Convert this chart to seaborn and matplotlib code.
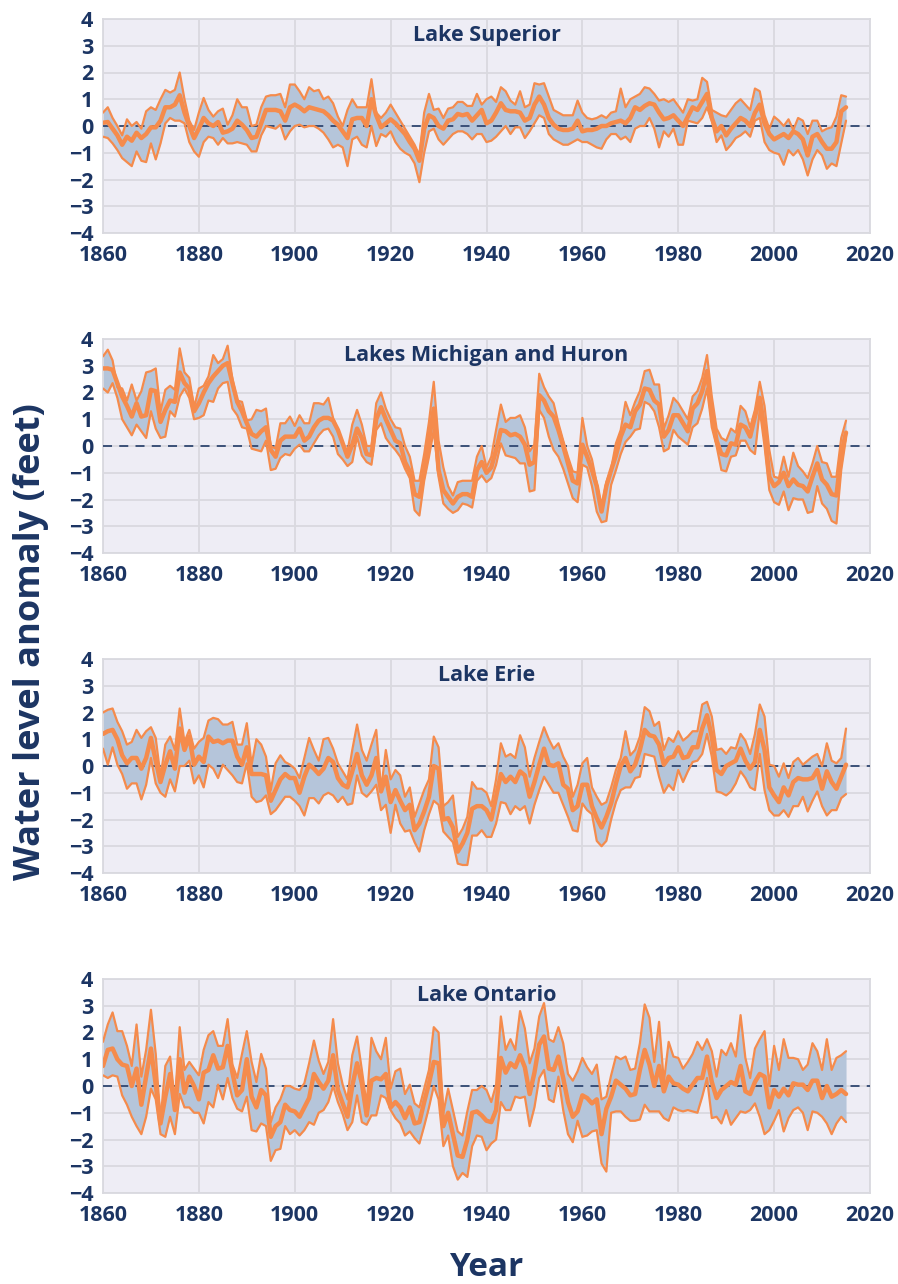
import numpy as np
import pandas as pd
import matplotlib
matplotlib.use("Agg")
import matplotlib.pyplot as plt
import seaborn as sns

years = list(range(1860, 2016))

# Lake Superior (feet, anomaly)
superior_mean = [0.12, 0.15, -0.1, -0.35, -0.7, -0.4, -0.55, -0.25, -0.45, -0.3,
                 -0.05, -0.05, 0.2, 0.7, 0.7, 0.8, 1.15, 0.5, 0.0, -0.45,
                 -0.1, 0.3, 0.1, 0.0, 0.15, -0.25, -0.2, -0.1, 0.2, 0.05,
                 -0.15, -0.45, -0.4, 0.1, 0.6, 0.6, 0.6, 0.55, 0.2, 0.7,
                 0.8, 0.7, 0.55, 0.7, 0.65, 0.6, 0.55, 0.4, 0.2, 0.05,
                 -0.2, -0.45, 0.25, 0.3, 0.3, 0.0, 1.0, 0.4, -0.05, 0.1,
                 0.25, 0.1, -0.1, -0.3, -0.6, -0.85, -1.3, -0.1, 0.4, 0.3,
                 0.0, -0.1, 0.2, 0.25, 0.45, 0.4, 0.45, 0.2, 0.4, 0.6,
                 0.1, 0.2, 0.5, 0.85, 0.6, 0.55, 0.55, 0.5, 0.2, 0.3,
                 0.8, 1.1, 0.8, 0.3, 0.05, -0.1, -0.15, -0.15, -0.1, 0.2,
                 -0.2, -0.15, -0.15, -0.1, 0.0, 0.0, 0.1, 0.15, 0.2, 0.1,
                 0.3, 0.7, 0.6, 0.75, 0.85, 0.8, 0.5, 0.25, 0.3, 0.4,
                 0.2, 0.0, 0.35, 0.7, 0.6, 0.9, 1.2, 0.3, -0.2, 0.0,
                 -0.35, -0.1, 0.1, 0.3, 0.2, 0.0, 0.5, 0.8, 0.1, -0.3,
                 -0.5, -0.4, -0.3, -0.45, -0.2, -0.3, -0.5, -1.1, -0.4, -0.3,
                 -0.6, -0.85, -0.85, -0.6, 0.55, 0.7]
superior_max = [0.5, 0.7, 0.3, 0.0, -0.35, 0.25, 0.0, 0.15, -0.1, 0.55,
                0.7, 0.6, 1.0, 1.35, 1.25, 1.35, 2.0, 1.0, 0.2, -0.15,
                0.5, 1.05, 0.6, 0.35, 0.55, 0.65, 0.05, 0.4, 1.0, 0.7,
                0.7, 0.0, 0.05, 0.7, 1.1, 1.15, 1.15, 1.2, 0.7, 1.55,
                1.55, 1.3, 1.0, 1.45, 1.3, 1.35, 1.0, 1.1, 0.85, 0.35,
                0.0, 0.6, 1.0, 0.7, 0.7, 0.7, 1.75, 0.5, 0.3, 0.5,
                0.8, 0.5, 0.2, -0.1, -0.4, -0.7, -1.1, 0.5, 1.2, 0.6,
                0.65, 0.3, 0.65, 0.7, 0.9, 0.9, 0.75, 0.75, 1.2, 0.8,
                1.0, 1.1, 0.9, 1.45, 1.3, 0.95, 0.8, 1.3, 0.7, 0.8,
                1.6, 1.55, 1.6, 1.1, 0.6, 0.5, 0.4, 0.4, 0.4, 0.95,
                0.5, 0.3, 0.25, 0.3, 0.4, 0.3, 0.5, 0.55, 1.4, 0.7,
                1.0, 1.1, 1.2, 1.45, 1.4, 1.2, 0.95, 1.0, 0.9, 1.0,
                0.75, 0.5, 1.0, 0.95, 1.0, 1.8, 1.65, 0.6, 0.5, 0.4,
                0.35, 0.6, 0.85, 1.0, 0.8, 0.6, 1.4, 1.3, 0.4, -0.1,
                0.35, 0.2, 0.0, 0.25, -0.15, 0.3, 0.2, -0.3, 0.2, 0.2,
                -0.2, -0.1, -0.05, 0.35, 1.15, 1.1]
superior_min = [-0.4, -0.45, -0.65, -0.9, -1.2, -1.35, -1.5, -0.95, -1.3, -1.35,
                -0.65, -1.25, -0.65, 0.1, 0.3, 0.2, 0.2, 0.1, -0.6, -0.95,
                -1.15, -0.6, -0.4, -0.45, -0.7, -0.45, -0.65, -0.65, -0.6, -0.65,
                -0.7, -0.95, -0.95, -0.35, 0.0, -0.05, -0.1, 0.05, -0.5, -0.2,
                0.0, 0.05, -0.05, 0.0, 0.0, -0.1, -0.25, -0.5, -0.8, -0.7,
                -0.8, -1.5, -0.5, -0.4, -0.7, -0.8, 0.0, -0.75, -0.3, -0.4,
                -0.2, -0.6, -0.85, -1.0, -1.1, -1.4, -2.1, -1.0, -0.2, -0.1,
                -0.5, -0.7, -0.5, -0.3, -0.2, -0.2, -0.3, -0.5, -0.3, -0.3,
                -0.6, -0.55, -0.4, -0.2, 0.0, -0.3, -0.05, -0.05, -0.45, -0.2,
                0.1, 0.4, 0.3, -0.3, -0.5, -0.6, -0.7, -0.7, -0.6, -0.5,
                -0.6, -0.6, -0.7, -0.8, -0.85, -0.5, -0.3, -0.3, -0.5, -0.4,
                -0.6, -0.1, 0.0, 0.0, 0.3, -0.1, -0.8, -0.2, -0.4, -0.1,
                -0.7, -0.7, 0.2, 0.15, 0.1, 0.3, 0.7, 0.2, -0.6, -0.35,
                -0.9, -0.7, -0.45, -0.35, -0.2, -0.4, 0.2, 0.3, -0.6, -0.9,
                -1.0, -1.05, -1.45, -0.9, -1.1, -0.9, -1.25, -1.85, -1.25, -0.9,
                -1.1, -1.6, -1.4, -1.5, -0.65, 0.2]

# Lakes Michigan and Huron
michigan_mean = [2.9, 2.9, 2.85, 2.35, 1.85, 1.5, 1.1, 1.6, 1.1, 1.15,
                 2.1, 2.05, 0.9, 1.35, 1.7, 1.65, 2.75, 2.35, 2.15, 1.3,
                 1.6, 2.0, 2.35, 2.6, 2.8, 3.0, 3.1, 2.35, 1.65, 1.3,
                 0.85, 0.45, 0.35, 0.55, 0.7, -0.15, -0.4, 0.2, 0.35, 0.35,
                 0.35, 0.65, 0.2, 0.35, 0.7, 0.95, 1.05, 1.05, 0.95, 0.6,
                 0.1, -0.4, 0.05, 0.65, 0.3, -0.3, -0.35, 1.0, 1.45, 1.0,
                 0.6, 0.2, 0.1, -0.6, -0.95, -1.8, -1.9, -0.9, 0.2, 1.4,
                 -0.9, -1.65, -1.9, -2.15, -1.9, -1.8, -1.8, -1.9, -0.9, -0.6,
                 -1.0, -0.8, -0.15, 0.6, 0.55, 0.4, 0.45, 0.35, 0.05, -0.7,
                 -0.6, 1.9, 1.7, 1.3, 1.1, 0.6, 0.0, -0.65, -1.3, -1.4,
                 0.05, -0.4, -0.9, -1.5, -2.45, -1.5, -0.9, -0.35, 0.35, 0.8,
                 0.7, 1.3, 1.55, 2.15, 2.1, 1.7, 1.55, 0.35, 0.6, 1.15,
                 1.15, 0.85, 0.55, 1.4, 1.6, 2.05, 2.8, 1.2, 0.2, -0.3,
                 -0.35, 0.1, 0.05, 0.8, 0.7, 0.35, 1.1, 1.8, 0.6, -1.15,
                 -1.5, -1.35, -1.0, -1.5, -1.25, -1.45, -1.5, -1.7, -1.15, -0.65,
                 -1.25, -1.45, -1.8, -1.85, -0.3, 0.5]
michigan_max = [3.35, 3.6, 3.2, 2.2, 2.15, 1.7, 2.3, 1.7, 2.05, 2.75,
                2.8, 2.9, 1.3, 2.1, 2.25, 2.1, 3.65, 2.75, 2.55, 1.45,
                2.15, 2.25, 2.6, 3.4, 3.1, 3.25, 3.75, 2.5, 1.7, 1.65,
                0.95, 1.0, 1.35, 1.3, 1.4, 0.0, -0.1, 0.85, 0.85, 1.1,
                0.75, 1.15, 0.85, 0.85, 1.6, 1.6, 1.55, 1.8, 1.05, 0.6,
                0.1, -0.2, 0.8, 1.35, 0.8, 0.0, 0.0, 1.6, 2.0, 1.4,
                1.0, 0.7, 0.65, 0.0, -0.4, -1.3, -1.3, -0.3, 0.9, 2.4,
                0.2, -0.8, -1.5, -1.85, -1.35, -1.3, -1.3, -1.3, -0.4, 0.0,
                -0.8, -0.4, 0.6, 1.55, 0.9, 1.05, 1.05, 1.15, 0.7, -0.2,
                0.05, 2.7, 2.2, 1.85, 1.6, 0.85, 0.2, -0.4, -0.95, -1.0,
                1.05, 0.0, -0.5, -1.4, -2.3, -1.35, -0.85, 0.1, 0.6, 1.65,
                1.15, 1.65, 2.05, 2.8, 2.85, 2.3, 2.3, 0.65, 1.15, 1.8,
                1.6, 1.3, 1.0, 1.85, 2.05, 2.55, 3.4, 1.85, 0.65, 0.3,
                0.2, 0.65, 0.5, 1.5, 1.3, 0.7, 1.35, 2.4, 1.5, -0.15,
                -1.15, -1.2, -0.4, -1.15, -0.25, -0.75, -0.95, -1.2, -0.65, 0.0,
                -0.6, -0.65, -1.15, -1.15, 0.3, 0.95]
michigan_min = [2.15, 2.0, 2.35, 1.8, 1.0, 0.7, 0.4, 0.8, 0.55, 0.3,
                1.3, 0.65, 0.3, 0.35, 1.3, 1.1, 1.85, 2.15, 1.8, 1.0,
                1.05, 1.15, 1.7, 1.65, 2.15, 2.35, 2.4, 1.4, 1.15, 0.7,
                0.65, -0.1, -0.15, -0.2, 0.2, -0.9, -0.85, -0.45, -0.3, -0.35,
                -0.1, 0.05, -0.2, -0.2, 0.1, 0.4, 0.6, 0.65, 0.35, -0.3,
                -0.5, -0.75, -0.6, 0.35, -0.35, -0.6, -0.7, 0.6, 0.85, 0.3,
                0.05, -0.15, -0.4, -0.85, -1.2, -2.4, -2.6, -1.3, -0.4, 0.6,
                -1.15, -2.15, -2.35, -2.5, -2.4, -2.15, -2.2, -2.3, -1.3, -1.1,
                -1.35, -1.2, -0.7, 0.1, -0.35, -0.4, -0.45, -0.65, -0.65, -1.7,
                -1.65, 1.35, 1.05, 0.35, -0.15, -0.4, -0.85, -1.4, -1.95, -2.1,
                -0.7, -0.8, -1.5, -2.45, -2.85, -2.8, -1.45, -0.9, -0.3, 0.15,
                0.35, 0.6, 0.65, 1.65, 1.55, 1.3, 0.7, -0.2, -0.1, 0.6,
                0.35, 0.2, 0.05, 0.7, 0.85, 1.4, 2.15, 0.7, 0.0, -0.9,
                -0.95, -0.4, -0.35, 0.2, 0.2, -0.15, -0.3, 1.35, 0.0, -1.65,
                -2.1, -2.2, -1.7, -2.4, -1.95, -2.0, -2.0, -2.5, -2.45, -1.5,
                -2.15, -2.35, -2.8, -2.9, -0.9, 0.3]

# Lake Erie
erie_mean = [1.2, 1.3, 1.35, 1.0, 0.4, 0.1, 0.3, 0.3, -0.1, 0.3,
             1.05, 0.2, -0.6, 0.05, 0.55, -0.1, 1.4, 0.6, 1.1, 0.05,
             0.35, 0.15, 1.1, 0.9, 0.95, 0.85, 0.95, 0.95, 0.35, 0.05,
             0.7, -0.3, -0.3, -0.3, -0.35, -1.3, -0.9, -0.5, -0.3, -0.45,
             -0.45, -1.0, -0.4, 0.05, -0.1, -0.3, -0.1, 0.3, 0.15, -0.45,
             -0.7, -0.8, -0.2, 0.45, -0.35, -0.7, -0.35, 0.3, -0.95, -0.4,
             -1.35, -0.9, -1.3, -1.65, -1.45, -2.4, -2.15, -1.7, -1.15, 0.0,
             -0.1, -2.0, -1.95, -2.3, -3.2, -2.9, -2.5, -1.6, -1.5, -1.5,
             -1.65, -2.0, -1.15, -0.3, -0.6, -0.4, -0.6, -0.2, -0.35, -1.15,
             -0.6, 0.05, 0.65, 0.05, 0.0, 0.1, -0.7, -0.85, -1.65, -1.5,
             -0.7, -0.7, -1.5, -1.95, -2.3, -1.9, -1.4, -0.65, 0.0, 0.3,
             -0.2, 0.05, 0.6, 1.35, 1.15, 1.1, 0.8, 0.05, 0.3, 0.35,
             0.7, 0.3, 0.35, 0.7, 0.7, 1.4, 1.9, 1.1, -0.15, -0.3,
             0.0, 0.1, 0.2, 0.65, 0.2, -0.1, 0.15, 1.35, 0.6, -0.8,
             -1.1, -1.35, -0.8, -1.1, -0.6, -0.45, -0.5, -0.5, -0.45, -0.15,
             -0.85, -0.2, -0.6, -0.85, -0.4, 0.05]
erie_max = [2.0, 2.1, 2.15, 1.65, 1.3, 0.8, 0.9, 1.35, 1.05, 1.3,
            1.45, 1.05, -0.4, 0.8, 1.1, 0.6, 2.15, 0.9, 1.35, 0.65,
            0.9, 1.05, 1.7, 1.8, 1.75, 1.55, 1.55, 1.65, 0.8, 0.8,
            1.6, 0.05, 1.0, 0.8, 0.35, -0.9, 0.1, 0.4, 0.15, 0.05,
            -0.1, -0.45, 0.3, 1.05, 0.6, 0.2, 1.0, 1.05, 0.65, 0.1,
            -0.2, -0.5, 0.6, 1.55, 0.6, 0.2, 0.8, 1.35, -0.9, 0.6,
            -0.5, -0.15, -0.35, -1.15, -0.8, -1.9, -1.4, -0.9, -0.5, 1.1,
            0.7, -1.5, -1.35, -1.1, -2.65, -2.35, -1.9, -0.6, -0.85, -0.85,
            -1.0, -1.5, -0.5, 0.85, 0.35, 0.45, 0.3, 1.15, 0.7, -0.4,
            0.3, 0.9, 1.45, 1.0, 0.65, 0.85, 0.35, 0.0, -1.15, -0.7,
            0.1, 0.3, -0.8, -1.15, -1.45, -1.35, -0.8, -0.15, 0.3, 1.3,
            0.4, 0.6, 1.1, 2.2, 2.05, 1.5, 1.65, 0.6, 1.05, 0.9,
            1.3, 0.95, 1.1, 1.3, 1.3, 2.3, 2.4, 1.85, 0.6, 0.65,
            0.45, 0.7, 0.65, 1.2, 0.95, 0.45, 1.2, 2.3, 1.85, 0.05,
            0.0, -0.4, 0.1, -0.45, 0.15, 0.3, 0.05, 0.2, 0.35, 0.45,
            0.0, 0.85, 0.2, 0.1, 0.3, 1.4]
erie_min = [0.65, 0.05, 0.7, 0.05, -0.3, -0.85, -0.65, -0.65, -1.25, -0.7,
            0.3, -0.65, -1.0, -1.15, -0.5, -0.95, 0.0, 0.0, 0.2, -0.65,
            -0.35, -0.8, 0.05, -0.1, -0.45, 0.05, -0.15, -0.35, -0.6, -0.65,
            0.1, -1.15, -1.35, -1.3, -1.1, -1.8, -1.65, -1.4, -1.15, -1.15,
            -1.3, -1.5, -1.85, -1.2, -1.2, -1.4, -1.1, -1.0, -1.1, -1.35,
            -1.15, -1.45, -1.4, -0.35, -1.0, -1.15, -0.95, -0.7, -1.65, -1.45,
            -2.5, -1.45, -2.15, -2.45, -2.4, -2.85, -3.2, -2.4, -1.8, -1.3,
            -1.45, -2.45, -2.65, -2.85, -3.65, -3.7, -3.7, -2.6, -2.6, -2.4,
            -2.65, -2.65, -2.15, -1.35, -1.4, -1.8, -1.5, -1.65, -1.5, -2.15,
            -1.45, -0.9, -0.4, -0.7, -1.0, -1.0, -1.45, -1.9, -2.4, -2.45,
            -1.4, -1.65, -1.8, -2.8, -3.0, -2.8, -2.0, -1.35, -0.9, -0.8,
            -0.8, -0.45, -0.4, 0.45, 0.4, 0.35, -0.4, -1.0, -0.7, -0.9,
            -0.15, -0.6, -0.2, 0.15, 0.2, 0.45, 1.2, 0.35, -0.95, -1.0,
            -1.1, -0.95, -0.65, -0.2, -0.45, -0.8, -0.9, 0.45, -0.9, -1.65,
            -1.85, -1.85, -1.65, -1.9, -1.5, -1.5, -1.15, -1.7, -1.3, -0.95,
            -1.5, -1.85, -1.65, -1.65, -1.2, -1.05]

# Lake Ontario
ontario_mean = [0.75, 1.35, 1.4, 1.0, 0.8, 0.75, 0.0, 0.65, -0.7, 0.35,
                1.4, 0.05, -1.4, -0.4, 0.45, -0.9, 1.0, -0.25, 0.35, 0.0,
                -0.5, 0.5, 0.6, 1.15, 0.65, 0.7, 1.5, 0.5, -0.35, -0.15,
                1.0, -0.4, -0.8, -0.15, -0.35, -1.9, -1.5, -1.35, -0.7, -0.9,
                -0.95, -1.15, -0.8, -0.45, 0.45, 0.15, -0.1, 0.2, 1.15, -0.15,
                -0.65, -1.15, 0.0, 0.85, 0.1, -1.1, 0.2, 0.3, 0.25, 0.45,
                -0.8, -0.6, -0.8, -1.2, -0.8, -1.4, -1.35, -0.6, 0.1, 0.9,
                0.85, -1.5, -1.0, -1.8, -2.6, -2.65, -2.0, -1.0, -0.95, -1.1,
                -1.3, -1.35, -0.9, 1.05, 0.5, 0.85, 0.7, 1.15, 0.7, -0.3,
                0.5, 1.55, 1.85, 0.65, 0.6, 1.1, 0.3, -0.6, -1.15, -0.95,
                -0.35, -0.45, -0.65, -0.5, -1.8, -0.85, -0.4, 0.2, 0.05, -0.1,
                -0.35, -0.3, 0.6, 1.35, 0.8, 0.0, 0.75, -0.2, 0.35, 0.1,
                0.05, -0.1, -0.2, 0.05, 0.3, 0.3, 1.1, 0.15, -0.45, -0.15,
                0.0, 0.15, 0.05, 0.75, -0.2, -0.3, 0.15, 0.45, 0.35, -0.8,
                -0.15, -0.4, -0.1, -0.35, 0.1, 0.05, 0.05, -0.15, 0.2, 0.2,
                -0.45, 0.0, -0.4, -0.3, -0.15, -0.3]
ontario_max = [1.65, 2.3, 2.75, 2.05, 2.05, 1.5, 0.75, 2.3, 0.35, 1.35,
               2.85, 1.2, -1.3, 0.75, 1.1, -0.6, 2.2, 0.6, 0.9, 0.65,
               0.4, 1.35, 1.9, 2.05, 1.5, 1.5, 2.5, 0.8, 0.3, 1.2,
               2.05, 0.9, 0.15, 1.2, 0.65, -1.35, -0.8, -0.5, 0.0, 0.0,
               -0.1, -0.15, 0.1, 0.85, 1.7, 0.95, 0.45, 0.9, 2.5, 0.85,
               0.05, -0.5, 1.15, 1.85, 0.6, -0.7, 1.8, 1.3, 1.0, 1.8,
               -0.1, 0.55, 0.65, -0.3, 0.05, -0.65, -0.8, -0.1, 0.6, 2.2,
               2.0, -1.0, -0.1, -0.9, -1.7, -1.85, -0.95, -0.15, -0.15, 0.0,
               -0.15, -0.6, 0.05, 2.6, 1.35, 1.75, 1.35, 2.8, 2.15, 0.85,
               1.4, 2.6, 3.1, 1.75, 1.65, 2.2, 1.6, 0.45, 0.2, 0.55,
               1.05, 0.7, 0.45, 0.8, -0.5, -0.4, 0.4, 1.1, 1.0, 1.1,
               0.6, 0.65, 1.6, 3.05, 2.55, 0.9, 2.4, 0.15, 1.65, 1.1,
               1.05, 0.65, 0.9, 1.2, 1.65, 1.35, 1.75, 1.3, 0.35, 1.35,
               1.15, 1.6, 1.1, 2.65, 1.05, 0.3, 1.4, 1.75, 2.05, 0.0,
               1.5, 0.6, 1.75, 1.05, 1.05, 1.0, 0.6, 0.8, 1.6, 1.3,
               0.6, 1.75, 0.6, 1.05, 1.15, 1.3]
ontario_min = [0.4, 0.3, 0.4, 0.35, -0.35, -0.7, -1.15, -1.5, -1.8, -1.15,
               -0.1, -0.5, -1.8, -1.9, -1.15, -1.8, -0.3, -0.8, -0.8, -1.0,
               -1.0, -1.4, -0.6, -0.8, 0.05, -0.5, 0.3, -0.45, -0.85, -0.95,
               -0.4, -1.65, -1.7, -1.4, -1.5, -2.8, -2.4, -2.35, -1.5, -1.8,
               -1.65, -1.85, -1.65, -1.35, -1.45, -1.0, -0.9, -0.6, 0.0, -0.6,
               -1.05, -1.65, -1.35, -0.35, -1.35, -1.45, -1.1, -1.1, -0.35, -0.45,
               -0.9, -1.2, -1.4, -1.85, -1.7, -1.95, -2.15, -1.5, -0.8, 0.0,
               -0.5, -2.25, -1.85, -3.0, -3.5, -3.25, -3.4, -2.25, -1.85, -1.9,
               -2.4, -2.15, -2.0, -0.6, -0.9, -0.9, -0.4, -0.45, -0.4, -1.5,
               -0.8, 0.3, 0.6, -0.5, -0.6, 0.35, -0.9, -1.8, -2.1, -1.3,
               -1.9, -1.85, -1.7, -1.65, -2.9, -3.2, -1.0, -0.95, -0.95, -1.15,
               -1.3, -1.3, -1.25, -0.7, -0.95, -0.95, -0.95, -1.2, -1.3, -0.8,
               -0.9, -0.95, -0.9, -0.95, -1.0, -0.4, 0.3, -1.2, -1.15, -1.4,
               -0.9, -1.45, -1.2, -0.95, -1.0, -0.9, -0.65, -1.15, -1.8, -1.65,
               -1.3, -0.9, -1.7, -1.2, -0.9, -0.8, -1.0, -1.65, -0.95, -1.0,
               -1.15, -1.4, -1.8, -1.4, -1.15, -1.35]

lakes = ["Lake Superior", "Lakes Michigan and Huron", "Lake Erie", "Lake Ontario"]
series = [(superior_mean, superior_max, superior_min),
          (michigan_mean, michigan_max, michigan_min),
          (erie_mean, erie_max, erie_min),
          (ontario_mean, ontario_max, ontario_min)]

navy = "#1c3563"
orange = "#f58b4c"
band = "#b5c5da"
panel_bg = "#eeedf5"
grid_col = "#d9d9df"

sns.set_theme(style="whitegrid")
plt.rcParams["font.family"] = ["Open Sans", "DejaVu Sans"]
plt.rcParams["font.weight"] = "bold"

fig = plt.figure(figsize=(8.98, 12.84), dpi=100)
W, H = 898, 1284
panel_tops = [19, 339, 659, 979]
panel_h = 214

for top, name, (mean, hi, lo) in zip(panel_tops, lakes, series):
    ax = fig.add_axes([103 / W, 1 - (top + panel_h) / H, 767 / W, panel_h / H])
    df = pd.DataFrame({"year": years, "mean": mean, "max": hi, "min": lo})

    ax.fill_between(df["year"], df["min"], df["max"], color=band, lw=0, zorder=2)
    ax.axhline(0, color="#2f4670", lw=1.3, ls=(0, (5, 4)), zorder=3)
    sns.lineplot(data=df, x="year", y="max", ax=ax, color=orange, lw=1.6, zorder=4)
    sns.lineplot(data=df, x="year", y="min", ax=ax, color=orange, lw=1.6, zorder=4)
    sns.lineplot(data=df, x="year", y="mean", ax=ax, color=orange, lw=3.2, zorder=5)

    ax.set(xlabel="", ylabel="")
    ax.set_xlim(1860, 2020)
    ax.set_ylim(-4, 4)
    ax.set_xticks(range(1860, 2021, 20))
    ax.set_yticks(range(-4, 5))
    ax.set_facecolor(panel_bg)
    ax.grid(True, color=grid_col, lw=1.3)
    for s in ax.spines.values():
        s.set_color(grid_col)
        s.set_linewidth(1.3)
    ax.tick_params(length=0, labelsize=15.5, labelcolor=navy)
    ax.tick_params(axis="x", pad=8.5)
    ax.tick_params(axis="y", pad=7)
    ax.text(0.5, 0.925, name, transform=ax.transAxes, ha="center", va="center",
            fontsize=15.5, fontweight="bold", color=navy)

fig.text(0.035, 0.5, "Water level anomaly (feet)", rotation=90, ha="center",
         va="center", fontsize=26, fontweight="bold", color=navy)
fig.text(0.541, 0.0125, "Year", ha="center", va="center", fontsize=24,
         fontweight="bold", color=navy)

fig.savefig("out.png", dpi=100, facecolor="white")
